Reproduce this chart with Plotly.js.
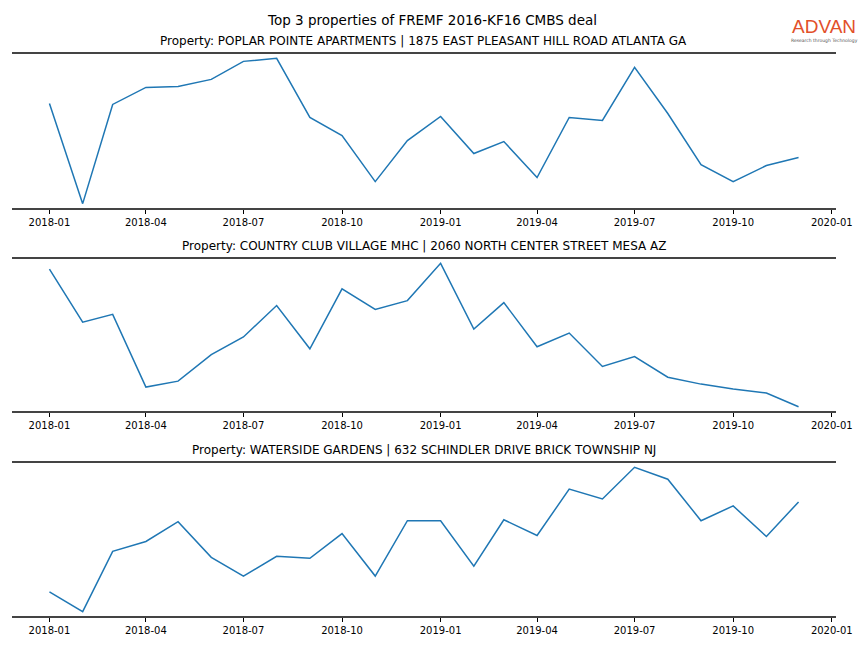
<!DOCTYPE html>
<html>
<head>
<meta charset="utf-8">
<script src="https://cdn.plot.ly/plotly-3.0.1.min.js"></script>
<style>html,body{margin:0;padding:0;background:#fff;}#chart{width:864px;height:648px;}</style>
</head>
<body>
<div id="chart"></div>
<script>
// ---- data ----
const months = ["2018-01-01","2018-02-01","2018-03-01","2018-04-01","2018-05-01","2018-06-01",
  "2018-07-01","2018-08-01","2018-09-01","2018-10-01","2018-11-01","2018-12-01",
  "2019-01-01","2019-02-01","2019-03-01","2019-04-01","2019-05-01","2019-06-01",
  "2019-07-01","2019-08-01","2019-09-01","2019-10-01","2019-11-01","2019-12-01"];

const poplarPointe = [104, 4, 103, 120, 121, 128, 146, 149, 90, 72, 26, 67,
  91, 54, 66, 30, 90, 87, 140, 94, 43, 26, 42, 50];
const countryClub = [142, 88, 96, 22, 28, 55, 73, 105, 61, 122, 101, 110,
  148, 81, 108, 63, 77, 43, 53, 32, 25, 20, 16, 2];
const watersideGardens = [23, 3, 64, 74, 94, 58, 39, 59, 57, 82, 39, 95,
  95, 49, 96, 80, 127, 117, 149, 137, 95, 110, 79, 114];

const seriesList = [poplarPointe, countryClub, watersideGardens];
const subplotTitles = [
  "Property: POPLAR POINTE APARTMENTS | 1875 EAST PLEASANT HILL ROAD ATLANTA GA",
  "Property: COUNTRY CLUB VILLAGE MHC | 2060 NORTH CENTER STREET MESA AZ",
  "Property: WATERSIDE GARDENS | 632 SCHINDLER DRIVE BRICK TOWNSHIP NJ"
];
const mainTitle = "Top 3 properties of FREMF 2016-KF16 CMBS deal";
const logoText = "ADVAN";
const logoSub = "Research through Technology";

// ---- layout helpers ----
const W = 864, H = 648;
const px = v => v / W;
const py = v => 1 - v / H;
const panels = [[54, 208], [259, 411], [463, 616]]; // top, bottom pixel rows

const t0 = new Date(months[0] + "T00:00:00Z").getTime();
const t1 = new Date(months[months.length - 1] + "T00:00:00Z").getTime();
const pad = 0.05 * (t1 - t0);
const fmt = t => new Date(t).toISOString().slice(0, 19).replace("T", " ");
const xRange = [fmt(t0 - pad), fmt(t1 + pad)];

const data = [];
const layout = {
  width: W, height: H,
  margin: {l: 0, r: 0, t: 0, b: 0},
  paper_bgcolor: "#fff", plot_bgcolor: "#fff",
  showlegend: false,
  font: {family: "DejaVu Sans", color: "#000"},
  annotations: [
    {text: mainTitle, x: 0.5, y: py(20), xref: "paper", yref: "paper",
     xanchor: "center", yanchor: "middle", showarrow: false, font: {size: 13.5, family: "DejaVu Sans"}},
    {text: logoText, x: px(824), y: py(27), xref: "paper", yref: "paper",
     xanchor: "center", yanchor: "middle", showarrow: false, borderpad: 0,
     font: {size: 19, family: "Liberation Sans", color: "#e2502a"}},
    {text: logoSub, x: px(824), y: py(40), xref: "paper", yref: "paper",
     xanchor: "center", yanchor: "middle", showarrow: false, borderpad: 0,
     font: {size: 4.5, family: "DejaVu Sans", color: "#555"}}
  ]
};

seriesList.forEach((vals, i) => {
  const n = i + 1;
  const xa = "x" + (n === 1 ? "" : n), ya = "y" + (n === 1 ? "" : n);
  data.push({x: months, y: vals, type: "scatter", mode: "lines",
    line: {color: "#1f77b4", width: 1.5}, xaxis: xa, yaxis: ya, hoverinfo: "skip"});
  const mn = Math.min(...vals), mx = Math.max(...vals), sp = mx - mn;
  const [top, bot] = panels[i];
  layout["xaxis" + (n === 1 ? "" : n)] = {
    domain: [px(12), px(836)], anchor: ya, type: "date", range: xRange,
    tickformat: "%Y-%m", dtick: "M3", tick0: "2018-01-01",
    ticks: "outside", ticklen: 4, tickwidth: 1, tickcolor: "#000",
    showline: true, mirror: true, linecolor: "#444", linewidth: 2,
    showgrid: false, zeroline: false,
    tickfont: {size: 10, family: "DejaVu Sans", color: "#000"}
  };
  layout["yaxis" + (n === 1 ? "" : n)] = {
    domain: [py(bot), py(top)], anchor: xa,
    range: [mn - 0.03 * sp, mx + 0.03 * sp],
    showline: false, showticklabels: false, ticks: "", showgrid: false, zeroline: false
  };
  layout.annotations.push({text: subplotTitles[i], x: (px(12) + px(836)) / 2, y: py(top - 4),
    xref: "paper", yref: "paper", xanchor: "center", yanchor: "bottom", showarrow: false,
    font: {size: 12, family: "DejaVu Sans"}});
});

Plotly.newPlot("chart", data, layout, {staticPlot: true, displayModeBar: false});
</script>
</body>
</html>
